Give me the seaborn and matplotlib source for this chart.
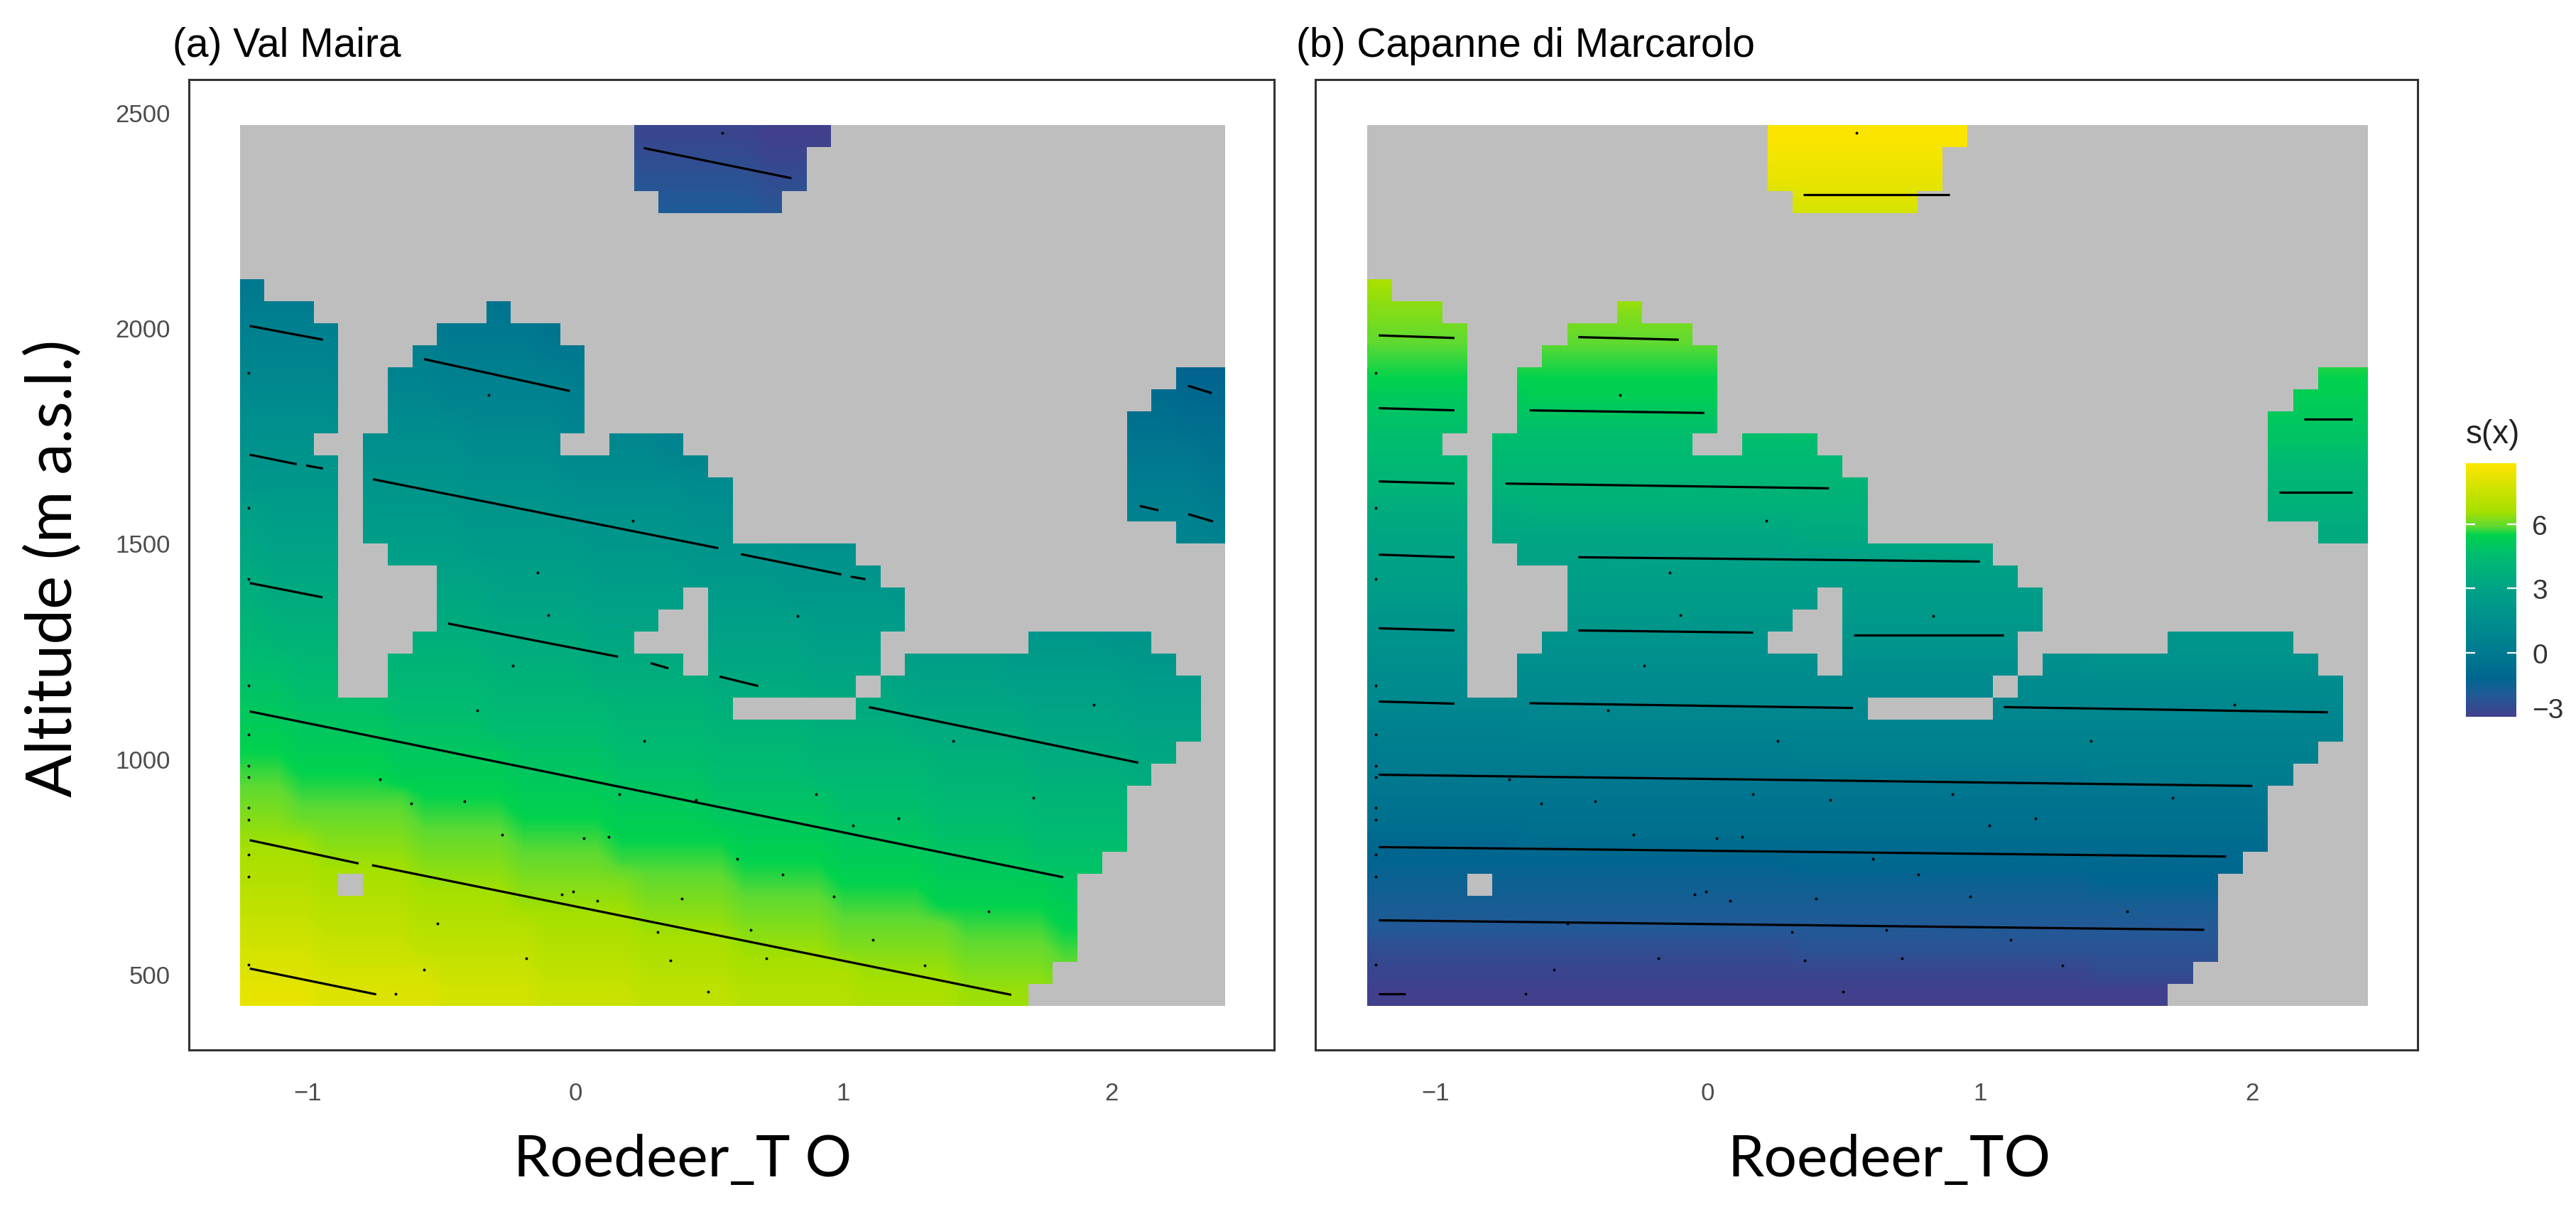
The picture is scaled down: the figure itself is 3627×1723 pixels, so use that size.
import numpy as np
import matplotlib
matplotlib.use("Agg")
import matplotlib.pyplot as plt
from matplotlib.colors import LinearSegmentedColormap, ListedColormap
from matplotlib.transforms import ScaledTranslation
import seaborn as sns

# grid of the plot, 40 x 40 cells, top row first
N_CELLS = 40
X_RANGE = (-1.252, 2.425)
Y_RANGE = (426, 2470)
X_LIMITS = (-1.442, 2.607)
Y_LIMITS = (323, 2576)
X_TICKS = [-1, 0, 1, 2]
X_TICK_LABELS = ["\u22121", "0", "1", "2"]
Y_TICKS = [500, 1000, 1500, 2000, 2500]
CBAR_TICKS = [-3, 0, 3, 6]
CBAR_TICK_LABELS = ["\u22123", "0", "3", "6"]
CBAR_RANGE = (-3, 8.85)

# colour scale of s(x)
SCALE_VALUES = [-3, -2, -1.2, 0, 1.5, 3, 4.5, 5.5, 5.9, 6.6, 8.85]
SCALE_COLOURS = ["#41408C", "#225A97", "#00668F", "#007A90", "#008F8E", "#00A386",
                 "#00BC70", "#00D24E", "#5EDA32", "#A5E000", "#FFE600"]

# cells with data in each row, as (first, last) column
DATA_RUNS = [
    [(16, 23)], [(16, 22)], [(16, 22)], [(17, 21)], [], [], [],
    [(0, 0)],
    [(0, 2), (10, 10)],
    [(0, 3), (8, 12)],
    [(0, 3), (7, 13)],
    [(0, 3), (6, 13), (38, 39)],
    [(0, 3), (6, 13), (37, 39)],
    [(0, 3), (6, 13), (36, 39)],
    [(0, 2), (5, 12), (15, 17), (36, 39)],
    [(0, 3), (5, 18), (36, 39)],
    [(0, 3), (5, 19), (36, 39)],
    [(0, 3), (5, 19), (36, 39)],
    [(0, 3), (5, 19), (38, 39)],
    [(0, 3), (6, 24)],
    [(0, 3), (8, 25)],
    [(0, 3), (8, 17), (19, 26)],
    [(0, 3), (8, 16), (19, 26)],
    [(0, 3), (7, 15), (19, 25), (32, 36)],
    [(0, 3), (6, 17), (19, 25), (27, 37)],
    [(0, 3), (6, 24), (26, 38)],
    [(0, 19), (25, 38)],
    [(0, 38)], [(0, 37)], [(0, 36)], [(0, 35)], [(0, 35)], [(0, 35)], [(0, 34)],
    [(0, 3), (5, 33)],
    [(0, 33)], [(0, 33)], [(0, 33)], [(0, 32)], [(0, 31)],
]

# s(x) per cell, one letter per cell: a = -3, then 0.25 per letter up to Z
LETTERS = "abcdefghijklmnopqrstuvwxyzABCDEFGHIJKLMNOPQRSTUVWXYZ"
VALUES_A = [
    "ffff eeee dddd cccc bbbbb aaaa aaaa aaaa aaaaa aa",
    "gggg ffff eeee dddd ccccc bbbb aaaa aaaa aaaaa aa",
    "hhhh gggg ffff eeee ddddd cccc bbbb aaaa aaaaa aa",
    "iiii hhhh gggg ffff eeeee dddd cccc bbbb aaaaa aa",
    "jjjj iiii hhhh gggg fffff eeee dddd cccc bbbbb aa",
    "kkkk jjjj iiii hhhh ggggg ffff eeee dddd ccccc bb",
    "llll kkkk jjjj iiii hhhhh gggg ffff eeee ddddd cc",
    "mmmm llll kkkk jjjj iiiii hhhh gggg ffff eeeee dd",
    "nnnn mmmm llll kkkk jjjjj iiii hhhh gggg fffff ee",
    "oooo nnnn mmmm lllll kkkk jjjj iiii hhhhh gggg ff",
    "pppp oooo nnnn mmmmm llll kkkk jjjj iiiii hhhh gg",
    "qqqq pppp ooooo nnnn mmmm llll kkkkk jjjj iiii hh",
    "rrrr qqqq ppppp oooo nnnn mmmm lllll kkkk jjjj ii",
    "ssss rrrrr qqqq pppp oooo nnnnn mmmm llll kkkk jj",
    "tttt sssss rrrr qqqq pppp ooooo nnnn mmmm lllll k",
    "uuuuu tttt ssss rrrr qqqqq pppp oooo nnnn mmmmm l",
    "vvvvv uuuu tttt sssss rrrr qqqq pppp ooooo nnnn m",
    "x wwww vvvv uuuu ttttt ssss rrrr qqqq ppppp oooo n",
    "y xxxx wwww vvvvv uuuu tttt ssss rrrrr qqqq pppp o",
    "z yyyy xxxx wwwww vvvv uuuu tttt sssss rrrr qqqq p",
    "A zzzz yyyyy xxxx wwww vvvv uuuuu tttt ssss rrrr q",
    "B AAAA zzzzz yyyy xxxx wwww vvvvv uuuu tttt ssss r",
    "C BBBBB AAAA zzzz yyyy xxxxx wwww vvvv uuuu ttttt",
    "D CCCCC BBBB AAAA zzzz yyyyy xxxx wwww vvvv uuuuu",
    "EE DDDD CCCC BBBB AAAAA zzzz yyyy xxxx wwwww vvvv",
    "FF EEEE DDDD CCCC BBBBB AAAA zzzz yyyy xxxxx wwww",
    "GG FFFF EEEE DDDDD CCCC BBBB AAAA zzzzz yyyy xxxx",
    "HH GGGG FFFF EEEEE DDDD CCCC BBBB AAAAA zzzz yyyy",
    "II HHHH GGGGG FFFF EEEE DDDD CCCCC BBBB AAAA zzzz",
    "JJ IIII HHHHH GGGG FFFF EEEE DDDDD CCCC BBBB AAAA",
    "KK JJJJJ IIII HHHH GGGG FFFFF EEEE DDDD CCCC BBBB",
    "LL KKKKK JJJJ IIII HHHH GGGGG FFFF EEEE DDDD CCCC",
    "MMM LLLL KKKK JJJJ IIIII HHHH GGGG FFFF EEEEE DDD",
    "NNN MMMM LLLL KKKK JJJJJ IIII HHHH GGGG FFFFF EEE",
    "OOO NNNN MMMM LLLLL KKKK JJJJ IIII HHHHH GGGG FFF",
    "PPP OOOO NNNN MMMMM LLLL KKKK JJJJ IIIII HHHH GGG",
    "QQQ PPPP OOOOO NNNN MMMM LLLL KKKKK JJJJ IIII HHH",
    "RRR QQQQ PPPPP OOOO NNNN MMMM LLLLL KKKK JJJJ III",
    "SSS RRRRR QQQQ PPPP OOOO NNNNN MMMM LLLL KKKK JJJ",
    "TTT SSSSS RRRR QQQQ PPPP OOOOO NNNN MMMM LLLL KKK",
]
VALUES_B = [
    "V" * 40, "U" * 40, "S" * 6 + "T" * 34, "R" * 17 + "S" * 23, "Q" * 29 + "R" * 11,
    "P" * 40, "O" * 40, "M" * 6 + "N" * 34, "L" * 17 + "M" * 23, "K" * 29 + "L" * 11,
    "J" * 40, "I" * 40, "G" * 6 + "H" * 34, "F" * 17 + "G" * 23, "E" * 29 + "F" * 11,
    "D" * 40, "C" * 40, "A" * 6 + "B" * 34, "z" * 17 + "A" * 23, "y" * 29 + "z" * 11,
    "x" * 40, "w" * 40, "u" * 6 + "v" * 34, "t" * 17 + "u" * 23, "s" * 29 + "t" * 11,
    "r" * 40, "q" * 40, "o" * 6 + "p" * 34, "n" * 17 + "o" * 23, "m" * 29 + "n" * 11,
    "l" * 40, "k" * 40, "i" * 6 + "j" * 34, "h" * 17 + "i" * 23, "g" * 29 + "h" * 11,
    "f" * 40, "e" * 40, "c" * 17 + "d" * 23, "b" * 29 + "c" * 11, "a" * 40,
]

# contour pieces: x start, x end, y start, y end
CONTOURS_A = [
    (-1.215, -0.743, 512, 452), (-1.215, -0.809, 810, 756), (-0.759, 1.626, 752, 451),
    (-1.215, 1.82, 1109, 724), (-1.215, -0.944, 1407, 1374), (-0.475, 0.159, 1313, 1236),
    (0.281, 0.347, 1221, 1209), (0.538, 0.682, 1190, 1168), (1.095, 2.10, 1119, 990),
    (-1.215, -1.04, 1705, 1683), (-1.005, -0.942, 1680, 1673), (-0.755, 0.533, 1648, 1488),
    (0.618, 0.992, 1474, 1427), (1.027, 1.082, 1422, 1416), (2.106, 2.175, 1586, 1576),
    (2.286, 2.379, 1567, 1550), (-1.215, -0.942, 2004, 1972), (-0.565, -0.021, 1927, 1853),
    (2.286, 2.374, 1865, 1848), (0.255, 0.806, 2417, 2347),
]
CONTOURS_B = [
    (-1.209, -0.931, 1982, 1976), (-0.476, -0.107, 1978, 1972), (-1.209, -0.931, 1813, 1808),
    (-0.655, -0.013, 1808, 1802), (-1.209, -0.931, 1643, 1638), (-0.744, 0.445, 1638, 1627),
    (-1.209, -0.931, 1473, 1467), (-0.476, 0.999, 1467, 1457), (-1.209, -0.931, 1302, 1297),
    (-0.476, 0.166, 1297, 1292), (0.536, 1.087, 1287, 1287), (-1.209, -0.931, 1132, 1127),
    (-0.655, 0.533, 1128, 1117), (1.087, 2.278, 1119, 1107), (-1.209, 2.0, 962, 936),
    (-1.209, 1.904, 794, 772), (-1.209, 1.823, 624, 602), (-1.209, -1.11, 454, 454),
    (2.19, 2.367, 1787, 1787), (2.099, 2.367, 1617, 1617), (0.351, 0.887, 2308, 2308),
]

# observation points, the same in both panels
DOT_X = [-1.219, -1.219, -1.219, -1.219, -1.219, -1.219, -1.219, -1.219, -1.219, -1.219, -1.219, -1.219,
         0.547, -0.323, 0.215, -0.14, -0.10, -0.233, -0.366, 0.257, -0.73, -0.613, -0.414, 0.165, 0.45,
         -0.273, 0.032, 0.125, 0.605, -0.05, -0.008, 0.082, 0.398, -0.515, 0.308, -0.183, 0.355, -0.565,
         -0.671, 0.496, 0.828, 1.934, 1.408, 0.897, 1.708, 1.204, 1.035, 0.772, 0.963, 1.541, 0.655,
         1.111, 0.713, 1.302]
DOT_Y = [1894, 1581, 1416, 1169, 1056, 983, 957, 886, 858, 777, 726, 521,
         2452, 1843, 1551, 1431, 1333, 1216, 1112, 1040, 952, 896, 901, 916, 904,
         823, 814, 818, 767, 685, 690, 670, 675, 617, 597, 536, 530, 510,
         454, 459, 1330, 1124, 1041, 917, 908, 860, 845, 731, 680, 644, 602,
         578, 536, 520]

GREY = "#BEBEBE"
FRAME = "#333333"
TICK_TEXT = "#4D4D4D"
WIDTH, HEIGHT = 3627, 1724


def panel_rect(left, right, top, bottom):
    # pixel box of the figure to axes fractions
    return [left / WIDTH, 1 - bottom / HEIGHT, (right - left) / WIDTH, (bottom - top) / HEIGHT]


def to_col(x):
    return (np.asarray(x, dtype=float) - X_RANGE[0]) / (X_RANGE[1] - X_RANGE[0]) * N_CELLS


def to_row(y):
    return (Y_RANGE[1] - np.asarray(y, dtype=float)) / (Y_RANGE[1] - Y_RANGE[0]) * N_CELLS


def read_values(rows):
    grid = [[-3 + 0.25 * LETTERS.index(c) for c in r.replace(" ", "")] for r in rows]
    return np.array(grid)


def draw_panel(ax, rows, contours, cax=None):
    has_data = np.zeros((N_CELLS, N_CELLS), dtype=bool)
    for i, runs in enumerate(DATA_RUNS):
        for first, last in runs:
            has_data[i, first:last + 1] = True

    values = read_values(rows)
    sns.heatmap(values, cmap=fill_cmap, vmin=CBAR_RANGE[0], vmax=CBAR_RANGE[1],
                cbar=cax is not None, cbar_ax=cax, xticklabels=False, yticklabels=False, ax=ax)
    # the original raster is smooth, so show the same cells with bilinear display
    # (kept just inside the mesh so no colour shows past the grey edge)
    ax.imshow(values, cmap=fill_cmap, vmin=CBAR_RANGE[0], vmax=CBAR_RANGE[1], aspect="auto",
              extent=(0.05, N_CELLS - 0.05, N_CELLS - 0.05, 0.05), interpolation="bilinear",
              interpolation_stage="data", zorder=1.5)
    # cells too far from the data are grey, on top of the surface
    sns.heatmap(np.zeros((N_CELLS, N_CELLS)), mask=has_data, cmap=ListedColormap([GREY]), cbar=False,
                xticklabels=False, yticklabels=False, ax=ax, zorder=2)

    for x0, x1, y0, y1 in contours:
        ax.plot(to_col([x0, x1]), to_row([y0, y1]), color="black", lw=2.3, solid_capstyle="butt", zorder=3)
    ax.scatter(to_col(DOT_X), to_row(DOT_Y), s=8, color="black", linewidths=0, zorder=3)

    ax.set_xlim(to_col(X_LIMITS[0]), to_col(X_LIMITS[1]))
    ax.set_ylim(to_row(Y_LIMITS[0]), to_row(Y_LIMITS[1]))
    ax.set_xticks(to_col(X_TICKS))
    ax.set_xticklabels(X_TICK_LABELS, rotation=0)
    ax.set_yticks(to_row(Y_TICKS))
    ax.tick_params(length=9, width=2, color=FRAME, labelsize=25, labelcolor=TICK_TEXT)
    ax.tick_params(axis="x", pad=23)
    ax.tick_params(axis="y", pad=10)
    for spine in ax.spines.values():
        spine.set_visible(True)
        spine.set_color(FRAME)
        spine.set_linewidth(2.2)


sns.set_theme(style="white")
plt.rcParams["font.family"] = ["Liberation Sans", "DejaVu Sans"]

positions = (np.array(SCALE_VALUES) - CBAR_RANGE[0]) / (CBAR_RANGE[1] - CBAR_RANGE[0])
fill_cmap = LinearSegmentedColormap.from_list("sx", list(zip(positions, SCALE_COLOURS)), N=512)

fig = plt.figure(figsize=(WIDTH / 100, HEIGHT / 100), dpi=100, facecolor="white")
ax_a = fig.add_axes(panel_rect(266, 1794, 113, 1479))
ax_b = fig.add_axes(panel_rect(1852, 3404, 113, 1479))
cax = fig.add_axes(panel_rect(3472, 3543, 653, 1010))

draw_panel(ax_a, VALUES_A, CONTOURS_A)
draw_panel(ax_b, VALUES_B, CONTOURS_B, cax=cax)

ax_a.set_yticklabels([str(v) for v in Y_TICKS], rotation=0)
ax_b.set_yticklabels([])

# legend
cax.set_yticks(CBAR_TICKS)
cax.set_yticklabels(CBAR_TICK_LABELS)
cax.tick_params(length=0, labelsize=28, labelcolor="#333333", pad=16, labelright=True, labelleft=False)
low_label = cax.get_yticklabels()[0]
low_label.set_transform(low_label.get_transform() + ScaledTranslation(0, 0.13, fig.dpi_scale_trans))
cax.hlines(CBAR_TICKS[1:], 0, 0.18, color="white", lw=1.6)
cax.hlines(CBAR_TICKS[1:], 0.82, 1, color="white", lw=1.6)
fig.text(3472 / WIDTH, 1 - 612 / HEIGHT, "s(x)", fontsize=33, color="#222222", va="center", ha="left")

# panel titles and axis labels
fig.text(243 / WIDTH, 1 - 65 / HEIGHT, "(a) Val Maira", fontsize=41, color="black", va="center", ha="left")
fig.text(1825 / WIDTH, 1 - 65 / HEIGHT, "(b) Capanne di Marcarolo", fontsize=41, color="black", va="center", ha="left")
fig.text(961 / WIDTH, 1 - 1633 / HEIGHT, "Roedeer_T O", fontsize=59, family="Lato", color="black", va="center", ha="center")
fig.text(2660 / WIDTH, 1 - 1633 / HEIGHT, "Roedeer_TO", fontsize=59, family="Lato", color="black", va="center", ha="center")
fig.text(76 / WIDTH, 1 - 800 / HEIGHT, "Altitude (m a.s.l.)", fontsize=64, family="Lato", color="black",
         va="center", ha="center", rotation=90)

fig.savefig("out.png", dpi=100)
